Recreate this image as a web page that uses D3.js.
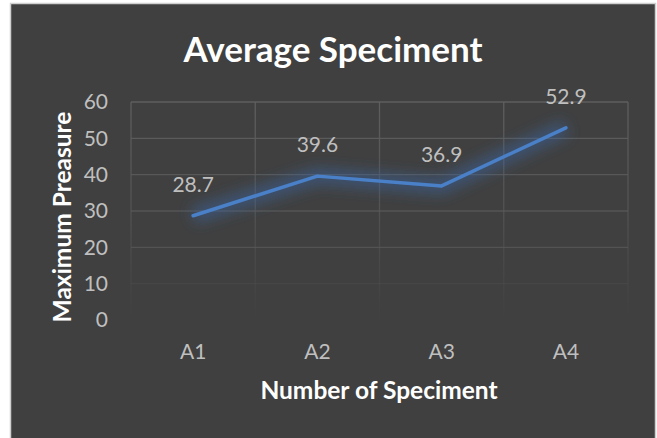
<!DOCTYPE html>
<html>
<head>
<meta charset="utf-8">
<script src="https://cdn.jsdelivr.net/npm/d3@7"></script>
<style>
  body { margin: 0; background: #fff; }
  svg { display: block; }
</style>
</head>
<body>
<div id="chart"></div>
<script>
// chart values
const categories = ["A1", "A2", "A3", "A4"];
const pressure = [28.7, 39.6, 36.9, 52.9];
const yTicks = [0, 10, 20, 30, 40, 50, 60];
const chartTitle = "Average Speciment";
const xTitle = "Number of Speciment";
const yTitle = "Maximum Preasure";

const W = 657, H = 438;
const font = "Lato, 'Open Sans', sans-serif";

const svg = d3.select("#chart").append("svg")
    .attr("width", W)
    .attr("height", H);

// outer frame + dark chart background
svg.append("rect")
    .attr("x", 10.5).attr("y", 3.5)
    .attr("width", 645).attr("height", 440)
    .style("fill", "#404040")
    .style("stroke", "#d0d0d0")
    .style("stroke-width", 1.5);

const plot = { left: 131, right: 628, top: 102, bottom: 320 };

const x = d3.scaleBand()
    .domain(categories)
    .range([plot.left, plot.right]);

const y = d3.scaleLinear()
    .domain([0, 60])
    .range([plot.bottom, plot.top]);

const defs = svg.append("defs");

// vertical gridlines fade out toward the bottom
const vGrad = defs.append("linearGradient")
    .attr("id", "vgrad")
    .attr("gradientUnits", "userSpaceOnUse")
    .attr("x1", 0).attr("y1", plot.top)
    .attr("x2", 0).attr("y2", plot.bottom);
vGrad.append("stop").attr("offset", "0%").attr("stop-color", "#5e5e5e").attr("stop-opacity", 1);
vGrad.append("stop").attr("offset", "50%").attr("stop-color", "#5a5a5a").attr("stop-opacity", 0.7);
vGrad.append("stop").attr("offset", "100%").attr("stop-color", "#555").attr("stop-opacity", 0);

const glow = defs.append("filter")
    .attr("id", "glow")
    .attr("x", "-20%").attr("y", "-50%")
    .attr("width", "140%").attr("height", "200%");
glow.append("feGaussianBlur")
    .attr("in", "SourceGraphic")
    .attr("stdDeviation", 7)
    .attr("result", "blur");

// horizontal gridlines
const opacity = d3.scaleLinear().domain([0, 10, 20, 60]).range([0, 0.2, 0.65, 1]);
svg.append("g")
    .selectAll("line")
    .data(yTicks)
    .join("line")
    .attr("x1", plot.left).attr("x2", plot.right)
    .attr("y1", d => y(d)).attr("y2", d => y(d))
    .style("stroke", "#5e5e5e")
    .style("stroke-opacity", d => opacity(d))
    .style("stroke-width", 1.3);

// vertical gridlines at category boundaries
const bounds = categories.map(c => x(c)).concat([plot.right]);
svg.append("g")
    .selectAll("line")
    .data(bounds)
    .join("line")
    .attr("x1", d => d).attr("x2", d => d)
    .attr("y1", plot.top).attr("y2", plot.bottom)
    .style("stroke", "url(#vgrad)")
    .style("stroke-width", 1.3);

// y tick labels
svg.append("g")
    .selectAll("text")
    .data(yTicks)
    .join("text")
    .attr("x", 108)
    .attr("y", d => y(d))
    .attr("dy", "0.35em")
    .attr("text-anchor", "end")
    .style("font-family", font)
    .style("font-size", "21px")
    .style("fill", "#bfbfbf")
    .text(d => d);

// x tick labels
svg.append("g")
    .selectAll("text")
    .data(categories)
    .join("text")
    .attr("x", d => x(d) + x.bandwidth() / 2)
    .attr("y", 352)
    .attr("dy", "0.35em")
    .attr("text-anchor", "middle")
    .style("font-family", font)
    .style("font-size", "21px")
    .style("fill", "#bfbfbf")
    .text(d => d);

const line = d3.line()
    .x((d, i) => x(categories[i]) + x.bandwidth() / 2)
    .y(d => y(d));

// glow under the line
svg.append("path")
    .datum(pressure)
    .attr("d", line)
    .style("fill", "none")
    .style("stroke", "#3a64a0")
    .style("stroke-opacity", 0.55)
    .style("stroke-width", 16)
    .style("stroke-linejoin", "round")
    .attr("filter", "url(#glow)");

svg.append("path")
    .datum(pressure)
    .attr("d", line)
    .style("fill", "none")
    .style("stroke", "#4a80c8")
    .style("stroke-width", 3.5)
    .style("stroke-linejoin", "round")
    .style("stroke-linecap", "round");

// data labels
svg.append("g")
    .selectAll("text")
    .data(pressure)
    .join("text")
    .attr("x", (d, i) => x(categories[i]) + x.bandwidth() / 2)
    .attr("y", d => y(d) - 31)
    .attr("dy", "0.35em")
    .attr("text-anchor", "middle")
    .style("font-family", font)
    .style("font-size", "21px")
    .style("fill", "#bfbfbf")
    .text(d => d.toFixed(1));

// titles
svg.append("text")
    .attr("x", 333).attr("y", 50)
    .attr("dy", "0.35em")
    .attr("text-anchor", "middle")
    .style("font-family", font)
    .style("font-weight", "bold")
    .style("font-size", "35px")
    .style("fill", "#ffffff")
    .text(chartTitle);

svg.append("text")
    .attr("x", 379).attr("y", 390)
    .attr("dy", "0.35em")
    .attr("text-anchor", "middle")
    .style("font-family", font)
    .style("font-weight", "bold")
    .style("font-size", "24.5px")
    .style("fill", "#ffffff")
    .text(xTitle);

svg.append("text")
    .attr("transform", "translate(62,217) rotate(-90)")
    .attr("dy", "0.35em")
    .attr("text-anchor", "middle")
    .style("font-family", font)
    .style("font-weight", "bold")
    .style("font-size", "24.5px")
    .style("fill", "#ffffff")
    .text(yTitle);
</script>
</body>
</html>
